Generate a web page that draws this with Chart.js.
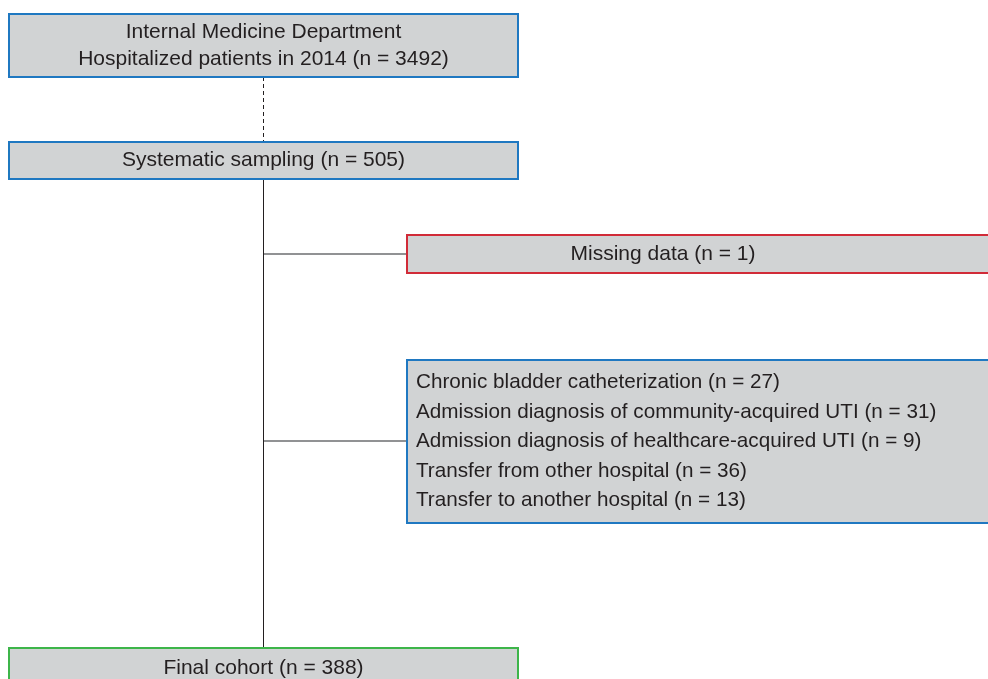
<!DOCTYPE html>
<html>
<head>
<meta charset="utf-8">
<script src="https://cdn.jsdelivr.net/npm/chart.js@4"></script>
<style>
  html, body { margin: 0; padding: 0; background: #ffffff; }
  #wrap { width: 988px; height: 679px; }
</style>
</head>
<body>
<div id="wrap"><canvas id="flow" width="988" height="679"></canvas></div>
<script>
// Dados do fluxograma
const stageTitles = ["Hospitalized patients in 2014", "Systematic sampling", "Missing data", "Final cohort"];
const stageCounts = [3492, 505, 1, 388];
const departmentName = "Internal Medicine Department";
const exclusionReasons = [
  "Chronic bladder catheterization",
  "Admission diagnosis of community-acquired UTI",
  "Admission diagnosis of healthcare-acquired UTI",
  "Transfer from other hospital",
  "Transfer to another hospital"
];
const exclusionCounts = [27, 31, 9, 36, 13];

const withN = (label, n) => `${label} (n = ${n})`;

// Layout (unidades do gráfico = pixels da figura)
const FILL = "#d1d3d4";
const TEXT = "#231f20";
const FAMILY = '"Liberation Sans", Arial, sans-serif';
const spineX = 263.5;

const boxes = [
  { x0: 9, x1: 518, y0: 14, y1: 77, border: "#1f78c1", size: 21,
    lines: [departmentName, withN(stageTitles[0], stageCounts[0])], align: "center", lineGap: 27, textX: 263.5 },
  { x0: 9, x1: 518, y0: 142, y1: 179, border: "#1f78c1", size: 21,
    lines: [withN(stageTitles[1], stageCounts[1])], align: "center", lineGap: 0, textX: 263.5 },
  { x0: 407, x1: 992, y0: 235, y1: 273, border: "#d12b38", size: 21,
    lines: [withN(stageTitles[2], stageCounts[2])], align: "center", lineGap: 0, textX: 663 },
  { x0: 407, x1: 992, y0: 360, y1: 523, border: "#1f78c1", size: 20.7,
    lines: exclusionReasons.map((r, i) => withN(r, exclusionCounts[i])), align: "left", lineGap: 29.5, textX: 416 },
  { x0: 9, x1: 518, y0: 648, y1: 700, border: "#3db54a", size: 21,
    lines: [withN(stageTitles[3], stageCounts[3])], align: "center", lineGap: 0, textX: 263.5, textY: 668 }
];

// Conectores
const connectors = [
  { pts: [{ x: spineX, y: 77 }, { x: spineX, y: 142 }], color: "#231f20", width: 1, dash: [4, 3] },
  { pts: [{ x: spineX, y: 179 }, { x: spineX, y: 648 }], color: "#231f20", width: 1, dash: [] },
  { pts: [{ x: spineX, y: 254 }, { x: 407, y: 254 }], color: "#6d6e71", width: 1.5, dash: [] },
  { pts: [{ x: spineX, y: 441 }, { x: 407, y: 441 }], color: "#6d6e71", width: 1.5, dash: [] }
];

/**
 * Plugin que desenha as caixas do fluxograma
 */
const boxPlugin = {
  id: "flowBoxes",
  afterDatasetsDraw(chart) {
    const { ctx, scales } = chart;
    const px = (v) => scales.x.getPixelForValue(v);
    const py = (v) => scales.y.getPixelForValue(v);

    boxes.forEach((b) => {
      const left = px(b.x0), right = px(b.x1);
      const top = py(b.y0), bottom = py(b.y1);

      ctx.save();
      ctx.fillStyle = FILL;
      ctx.fillRect(left, top, right - left, bottom - top);
      ctx.strokeStyle = b.border;
      ctx.lineWidth = 2;
      ctx.strokeRect(left, top, right - left, bottom - top);

      ctx.fillStyle = TEXT;
      ctx.font = `${b.size}px ${FAMILY}`;
      ctx.textBaseline = "middle";
      ctx.textAlign = b.align;

      const cy = b.textY !== undefined ? b.textY : (b.y0 + b.y1) / 2;
      const firstY = cy - (b.lines.length - 1) * b.lineGap / 2;
      b.lines.forEach((line, i) => {
        ctx.fillText(line, px(b.textX), py(firstY + i * b.lineGap));
      });
      ctx.restore();
    });
  }
};

new Chart(document.getElementById("flow"), {
  type: "scatter",
  data: {
    datasets: connectors.map((c) => ({
      data: c.pts,
      showLine: true,
      borderColor: c.color,
      borderWidth: c.width,
      borderDash: c.dash,
      pointRadius: 0,
      fill: false,
      tension: 0
    }))
  },
  options: {
    responsive: false,
    animation: false,
    devicePixelRatio: 1,
    layout: { padding: 0 },
    plugins: { legend: { display: false }, tooltip: { enabled: false } },
    scales: {
      x: { type: "linear", min: 0, max: 988, display: false },
      y: { type: "linear", min: 0, max: 679, reverse: true, display: false }
    }
  },
  plugins: [boxPlugin]
});
</script>
</body>
</html>
